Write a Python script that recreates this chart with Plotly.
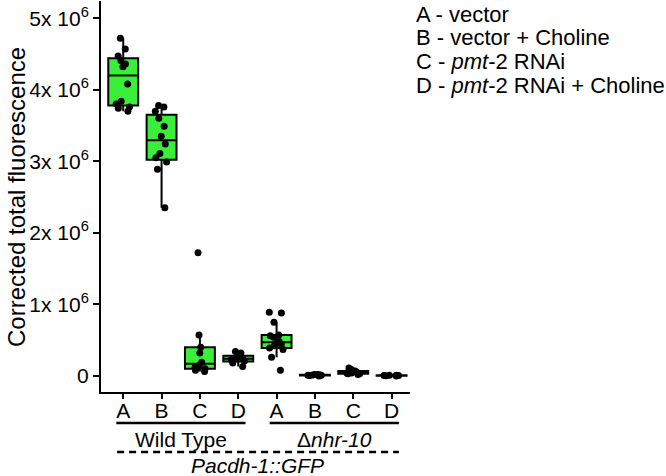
import plotly.graph_objects as go

# ---------------- data ----------------
categories = ["A", "B", "C", "D", "A", "B", "C", "D"]
groups = ["Wild Type", "Δ<i>nhr-10</i>"]
y_tick_vals = [0, 1e6, 2e6, 3e6, 4e6, 5e6]
y_tick_text = ["0", "1x 10<sup>6</sup>", "2x 10<sup>6</sup>", "3x 10<sup>6</sup>",
               "4x 10<sup>6</sup>", "5x 10<sup>6</sup>"]

wt_a = [3.70, 3.74, 3.76, 3.80, 3.84, 4.08, 4.32, 4.36, 4.41, 4.47, 4.57, 4.72]
wt_b = [2.35, 2.89, 2.99, 3.05, 3.11, 3.24, 3.35, 3.49, 3.60, 3.70, 3.76, 3.78]
wt_c = [0.06, 0.08, 0.10, 0.12, 0.15, 0.19, 0.32, 0.40, 0.57, 1.72]
wt_d = [0.13, 0.18, 0.21, 0.23, 0.24, 0.25, 0.27, 0.32, 0.34]
nhr_a = [0.08, 0.26, 0.37, 0.39, 0.42, 0.44, 0.46, 0.48, 0.54, 0.56, 0.57, 0.75, 0.88, 0.89]
nhr_b = [0.000, 0.005, 0.008, 0.010, 0.012, 0.015, 0.018, 0.020]
nhr_c = [0.02, 0.03, 0.03, 0.04, 0.04, 0.05, 0.06, 0.07, 0.09, 0.11]
nhr_d = [0.000, 0.003, 0.005, 0.006, 0.008, 0.010]
series = [wt_a, wt_b, wt_c, wt_d, nhr_a, nhr_b, nhr_c, nhr_d]
scale = 1e6

legend_lines = ["A - vector", "B - vector + Choline", "C - <i>pmt</i>-2 RNAi",
                "D - <i>pmt</i>-2 RNAi + Choline"]
y_title = "Corrected total fluorescence"
reporter = "<i>Pacdh-1::GFP</i>"

# ---------------- layout helpers ----------------
W, H = 666, 476
PL, PR, PT, PB = 101, 410, 1, 392
FONT = "Liberation Sans, Arial, sans-serif"
GREEN = "#39EF39"


def px(x):
    return (x - PL) / (PR - PL)


def py(y):
    return (PB - y) / (PB - PT)


fig = go.Figure()
for i, vals in enumerate(series):
    fig.add_trace(go.Box(
        x=[i] * len(vals),
        y=[v * scale for v in vals],
        width=0.78,
        fillcolor=GREEN,
        line=dict(color="black", width=2),
        whiskerwidth=0,
        boxpoints="all",
        jitter=0.6,
        pointpos=0,
        marker=dict(color="black", size=7, line=dict(width=0)),
        showlegend=False,
        hoverinfo="y",
    ))

fig.update_layout(
    width=W, height=H,
    margin=dict(l=PL, r=W - PR, t=PT, b=H - PB, autoexpand=False),
    paper_bgcolor="white", plot_bgcolor="white",
    font=dict(family=FONT, color="black"),
    xaxis=dict(range=[-0.58, 7.48], tickvals=list(range(8)), ticktext=categories,
               showgrid=False, zeroline=False, showline=True, linecolor="black",
               linewidth=2, ticks="outside", ticklen=5, tickwidth=1.5,
               tickcolor="black", tickfont=dict(size=21, family=FONT),
               ticklabelstandoff=-6),
    yaxis=dict(range=[-0.225e6, 5.24e6], tickvals=y_tick_vals, ticktext=y_tick_text,
               showgrid=False, zeroline=False, showline=True, linecolor="black",
               linewidth=2, ticks="outside", ticklen=6, tickwidth=1.5,
               tickcolor="black", tickfont=dict(size=21, family=FONT)),
)

ann = []
ann.append(dict(text=y_title, x=px(16), y=py(197), xref="paper", yref="paper",
                showarrow=False, textangle=-90, font=dict(size=24, family=FONT),
                xanchor="center", yanchor="middle"))
ann.append(dict(text=groups[0], x=1.5, y=py(439), xref="x", yref="paper",
                showarrow=False, xanchor="center", yanchor="middle",
                font=dict(size=21, family=FONT)))
ann.append(dict(text=groups[1], x=5.5, y=py(439), xref="x", yref="paper",
                showarrow=False, xanchor="center", yanchor="middle",
                font=dict(size=21, family=FONT)))
ann.append(dict(text=reporter, x=3.5, y=py(465), xref="x", yref="paper",
                showarrow=False, xanchor="center", yanchor="middle",
                font=dict(size=21, family=FONT)))
for k, t in enumerate(legend_lines):
    ann.append(dict(text=t, x=px(414), y=py(14 + 23.7 * k), xref="paper", yref="paper",
                    showarrow=False, xanchor="left", yanchor="middle",
                    font=dict(size=22, family=FONT)))
fig.update_layout(annotations=ann)

shapes = [
    dict(type="line", xref="x", yref="paper", x0=-0.18, x1=3.19, y0=py(423), y1=py(423),
         line=dict(color="black", width=2.5)),
    dict(type="line", xref="x", yref="paper", x0=3.82, x1=7.19, y0=py(423), y1=py(423),
         line=dict(color="black", width=2.5)),
    dict(type="line", xref="x", yref="paper", x0=-0.16, x1=7.19, y0=py(452), y1=py(452),
         line=dict(color="black", width=2.5, dash="7px,5px")),
]
fig.update_layout(shapes=shapes)

fig.write_html("out.html", config={"displayModeBar": False},
               post_script="document.body.style.margin='0';document.body.style.overflow='hidden';")
